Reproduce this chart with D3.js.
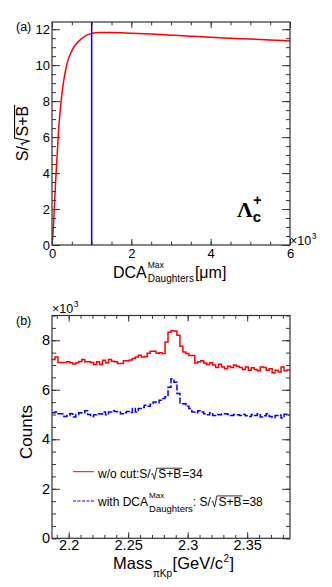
<!DOCTYPE html>
<html>
<head>
<meta charset="utf-8">
<script src="https://cdn.jsdelivr.net/npm/d3@7"></script>
<style>
  html, body { margin: 0; padding: 0; background: #fff; }
  svg { display: block; }
  text { font-family: 'Liberation Sans', Arial, Helvetica, sans-serif; fill: #000; }
</style>
</head>
<body>
<svg id="chart" width="332" height="587"></svg>
<script>
const FONT = "'Liberation Sans', Arial, Helvetica, sans-serif";
const FRAME = '#333';
const RED = '#ff0000';
const BLUE = '#0000ff';

// (a) significance vs. max DCA between daughters, in um
const dcaCut = [15, 40, 70, 100, 130, 160, 200, 250, 300, 350, 400, 470, 550, 660, 770, 870,
  1000, 1200, 1500, 2000, 2500, 3000, 3500, 4000, 4500, 5000, 5500, 6000];
const significance = [0.3, 1.2, 2.6, 3.9, 5.0, 6.2, 7.3, 8.4, 9.2, 9.8, 10.25, 10.65, 11.0, 11.3, 11.52, 11.67,
  11.76, 11.81, 11.82, 11.78, 11.73, 11.67, 11.61, 11.55, 11.5, 11.45, 11.4, 11.35];
const chosenCut = 1000;
const dcaMajor = [0, 2000, 4000, 6000];
const dcaMinor = [0, 500, 1000, 1500, 2000, 2500, 3000, 3500, 4000, 4500, 5000, 5500, 6000];
const sigMajor = [0, 2, 4, 6, 8, 10, 12];
const sigMinor = [0, 0.5, 1, 1.5, 2, 2.5, 3, 3.5, 4, 4.5, 5, 5.5, 6, 6.5, 7, 7.5, 8, 8.5, 9, 9.5, 10, 10.5, 11, 11.5, 12];

// (b) invariant mass histograms, 80 bins over [2.186, 2.386]
const massRange = [2.186, 2.386];
const countsNoCut = [
  7220, 7320, 7100, 7100, 7100, 7130, 7090, 7040, 7090, 7140,
  7220, 7130, 7130, 7100, 7020, 7130, 7020, 7190, 7090, 7220,
  7150, 7130, 7060, 7060, 7170, 7170, 7200, 7260, 7320, 7390,
  7320, 7340, 7480, 7560, 7560, 7480, 7500, 7460, 7930, 8320,
  8380, 8370, 8200, 7760, 7530, 7460, 7380, 7380, 7080, 7130,
  7170, 7080, 7020, 7090, 7000, 6900, 7030, 6920, 6850, 6950,
  6900, 7000, 6950, 6900, 6820, 6920, 6790, 6890, 6820, 6770,
  6920, 6900, 6790, 6850, 6680, 6790, 6720, 6920, 6770, 6800];
const countsDcaCut = [
  5070, 5100, 5030, 5030, 4920, 4960, 5030, 4900, 5000, 5070,
  5060, 5150, 5000, 4920, 4990, 5030, 5020, 5100, 4990, 5100,
  5150, 5120, 5100, 5030, 5070, 5120, 5080, 5240, 5100, 5240,
  5280, 5370, 5330, 5420, 5510, 5480, 5580, 5650, 5720, 6100,
  6440, 6300, 5850, 5440, 5440, 5330, 5240, 5100, 5070, 5150,
  5100, 5030, 4990, 5070, 4960, 5000, 4990, 5030, 5030, 5000,
  4960, 5000, 4990, 4960, 5000, 4950, 4920, 5000, 4960, 5030,
  4900, 4950, 5030, 4920, 4880, 4960, 4980, 4860, 5010, 4980];
const massMajor = [2.2, 2.25, 2.3, 2.35];
const massMinor = [2.19, 2.2, 2.21, 2.22, 2.23, 2.24, 2.25, 2.26, 2.27, 2.28, 2.29,
  2.3, 2.31, 2.32, 2.33, 2.34, 2.35, 2.36, 2.37, 2.38];
const countMajor = [0, 2000, 4000, 6000, 8000];
const countMinor = [0, 500, 1000, 1500, 2000, 2500, 3000, 3500, 4000, 4500, 5000, 5500,
  6000, 6500, 7000, 7500, 8000, 8500, 9000];

const svg = d3.select('#chart');
svg.append('rect').attr('width', 332).attr('height', 587).attr('fill', '#fff');

function drawFrame(g, x, y, o) {
  const [xl, xr] = x.range();
  const [yb, yt] = y.range();
  const ax = (axis, tx, ty, values, len, fmt, pad) => {
    const sel = g.append('g')
      .attr('transform', `translate(${tx},${ty})`)
      .call(axis.tickValues(values).tickSizeInner(-len).tickSizeOuter(0)
        .tickPadding(pad || 0).tickFormat(fmt || (() => '')));
    sel.attr('font-size', o.fontSize).attr('font-family', FONT);
    sel.select('.domain').remove();
    sel.selectAll('line').attr('stroke', FRAME).attr('stroke-width', 1);
    return sel;
  };
  ax(d3.axisBottom(x), 0, yb, o.xMajor, o.xMajLen, o.xFmt, o.xPad);
  ax(d3.axisBottom(x), 0, yb, o.xMinor, o.xMinLen);
  ax(d3.axisTop(x), 0, yt, o.xMajor, o.xMajLen);
  ax(d3.axisTop(x), 0, yt, o.xMinor, o.xMinLen);
  ax(d3.axisLeft(y), xl, 0, o.yMajor, o.yMajLen, o.yFmt, o.yPad);
  ax(d3.axisLeft(y), xl, 0, o.yMinor, o.yMinLen);
  ax(d3.axisRight(y), xr, 0, o.yMajor, o.yMajLen);
  ax(d3.axisRight(y), xr, 0, o.yMinor, o.yMinLen);
  g.append('rect')
    .attr('x', xl).attr('y', yt)
    .attr('width', xr - xl).attr('height', yb - yt)
    .attr('fill', 'none').attr('stroke', FRAME).attr('stroke-width', 1.2);
}

// append a text run and return the x where it ends
function run(g, x, y, str, size, style) {
  const t = g.append('text').attr('x', x).attr('y', y).attr('font-size', size).text(str);
  if (style) style(t);
  return x + t.node().getComputedTextLength();
}

// radical sign with an overlined argument
function radical(g, x, y, arg, size) {
  const h = size * 0.84;
  const w = size * 0.5;
  const end = run(g, x + w + 1.5, y, arg, size);
  g.append('path')
    .attr('d', `M${x + 0.5},${y - h * 0.4} L${x + w * 0.3},${y - h * 0.48} L${x + w * 0.62},${y + 1}` +
      ` L${x + w},${y - h} L${end + 1},${y - h}`)
    .attr('fill', 'none').attr('stroke', '#000').attr('stroke-width', size / 15);
  return end + 1;
}

// sub/superscript pair stacked at the same x
function scripts(g, x, y, sup, sub, supSize, subSize, supDy, subDy) {
  const a = run(g, x, y + supDy, sup, supSize);
  const b = run(g, x, y + subDy, sub, subSize);
  return Math.max(a, b);
}

// ---------- panel (a) ----------
const ga = svg.append('g');
const xa = d3.scaleLinear().domain([0, 6000]).range([52, 290]);
const ya = d3.scaleLinear().domain([0, 12.4]).range([245, 22]);

ga.append('path')
  .datum(dcaCut.map((d, i) => [d, significance[i]]))
  .attr('d', d3.line().x(d => xa(d[0])).y(d => ya(d[1])).curve(d3.curveMonotoneX))
  .attr('fill', 'none').attr('stroke', RED).attr('stroke-width', 1.5);

ga.append('line')
  .attr('x1', xa(chosenCut)).attr('x2', xa(chosenCut))
  .attr('y1', ya.range()[0]).attr('y2', ya.range()[1])
  .attr('stroke', BLUE).attr('stroke-width', 1.5);

drawFrame(ga, xa, ya, {
  fontSize: 13,
  xMajor: dcaMajor, xMinor: dcaMinor, xMajLen: 6, xMinLen: 3.3, xPad: 4, xFmt: d => d / 1000,
  yMajor: sigMajor, yMinor: sigMinor, yMajLen: 8, yMinLen: 4, yPad: 2, yFmt: d => d
});

run(ga, 16, 31, '(a)', 12.5);
{
  let x = run(ga, 290, 245, '\u00d710', 12.5);
  run(ga, x + 0.5, 238.5, '3', 8.5);
}
{
  let x = run(ga, 113, 278.3, 'DCA', 16);
  x = scripts(ga, x + 1, 278.3, 'Max', 'Daughters', 8.5, 10, -10, 3.5);
  run(ga, x + 1, 278.3, '[\u03bcm]', 16);
}
{
  const t = ga.append('g').attr('transform', 'translate(28,133) rotate(-90)');
  const inner = t.append('g');
  let x = run(inner, 0, 0, 'S/', 16);
  x = radical(inner, x, 0, 'S+B', 16);
  inner.attr('transform', `translate(${-x / 2},0)`);
}
{
  const bold = t => t.attr('font-weight', 'bold');
  const x = run(ga, 237, 216.7, '\u039b', 22, t => t.attr('font-weight', 'bold').style('font-family', "'Liberation Serif', 'Times New Roman', serif"));
  run(ga, x, 221.7, 'c', 15, bold);
  run(ga, x + 0.5, 205, '+', 14, bold);
}

// ---------- panel (b) ----------
const gb = svg.append('g');
const xb = d3.scaleLinear().domain(massRange).range([52, 290]);
const yb = d3.scaleLinear().domain([0, 9000]).range([538.3, 315.5]);
const binWidth = (massRange[1] - massRange[0]) / countsNoCut.length;

const histLine = d3.line().x(d => xb(d[0])).y(d => yb(d[1])).curve(d3.curveStepAfter);
const steps = counts => counts.map((c, i) => [massRange[0] + i * binWidth, c])
  .concat([[massRange[1], counts[counts.length - 1]]]);

gb.append('path').datum(steps(countsNoCut)).attr('d', histLine)
  .attr('fill', 'none').attr('stroke', RED).attr('stroke-width', 1.5);
gb.append('path').datum(steps(countsDcaCut)).attr('d', histLine)
  .attr('fill', 'none').attr('stroke', BLUE).attr('stroke-width', 1.5)
  .attr('stroke-dasharray', '6,2');

drawFrame(gb, xb, yb, {
  fontSize: 14.5,
  xMajor: massMajor, xMinor: massMinor, xMajLen: 6, xMinLen: 3.3, xPad: 1.5, xFmt: d3.format('~g'),
  yMajor: countMajor, yMinor: countMinor, yMajLen: 8, yMinLen: 4, yPad: 2, yFmt: d => d / 1000
});

run(gb, 16, 325, '(b)', 12.5);
{
  const x = run(gb, 52, 313, '\u00d710', 12.5);
  run(gb, x + 0.5, 306.5, '3', 8.5);
}
{
  let x = run(gb, 113, 569.3, 'Mass', 16.5);
  x = run(gb, x + 0.5, 576.5, '\u03c0Kp', 10);
  x = run(gb, x + 0.5, 569.3, '[GeV/c', 16.5);
  x = run(gb, x + 0.5, 562, '2', 10);
  run(gb, x + 0.5, 569.3, ']', 16.5);
}
{
  const t = gb.append('g').attr('transform', 'translate(32,432) rotate(-90)');
  t.append('text').attr('text-anchor', 'middle').attr('font-size', 17).text('Counts');
}

// legend
gb.append('line').attr('x1', 73).attr('x2', 94).attr('y1', 471.7).attr('y2', 471.7)
  .attr('stroke', RED).attr('stroke-width', 1);
{
  let x = run(gb, 98, 478.3, 'w/o cut:S/', 12);
  x = radical(gb, x, 478.3, 'S+B', 12);
  run(gb, x, 478.3, '=34', 12);
}
gb.append('line').attr('x1', 73).attr('x2', 94).attr('y1', 501).attr('y2', 501)
  .attr('stroke', BLUE).attr('stroke-width', 1).attr('stroke-dasharray', '3,1.5');
{
  let x = run(gb, 98, 506, 'with DCA', 12);
  x = scripts(gb, x + 1, 506, 'Max', 'Daughters', 8, 9.5, -8, 5.5);
  x = run(gb, x, 506, ': S/', 12);
  x = radical(gb, x, 506, 'S+B', 12);
  run(gb, x, 506, '=38', 12);
}
</script>
</body>
</html>
